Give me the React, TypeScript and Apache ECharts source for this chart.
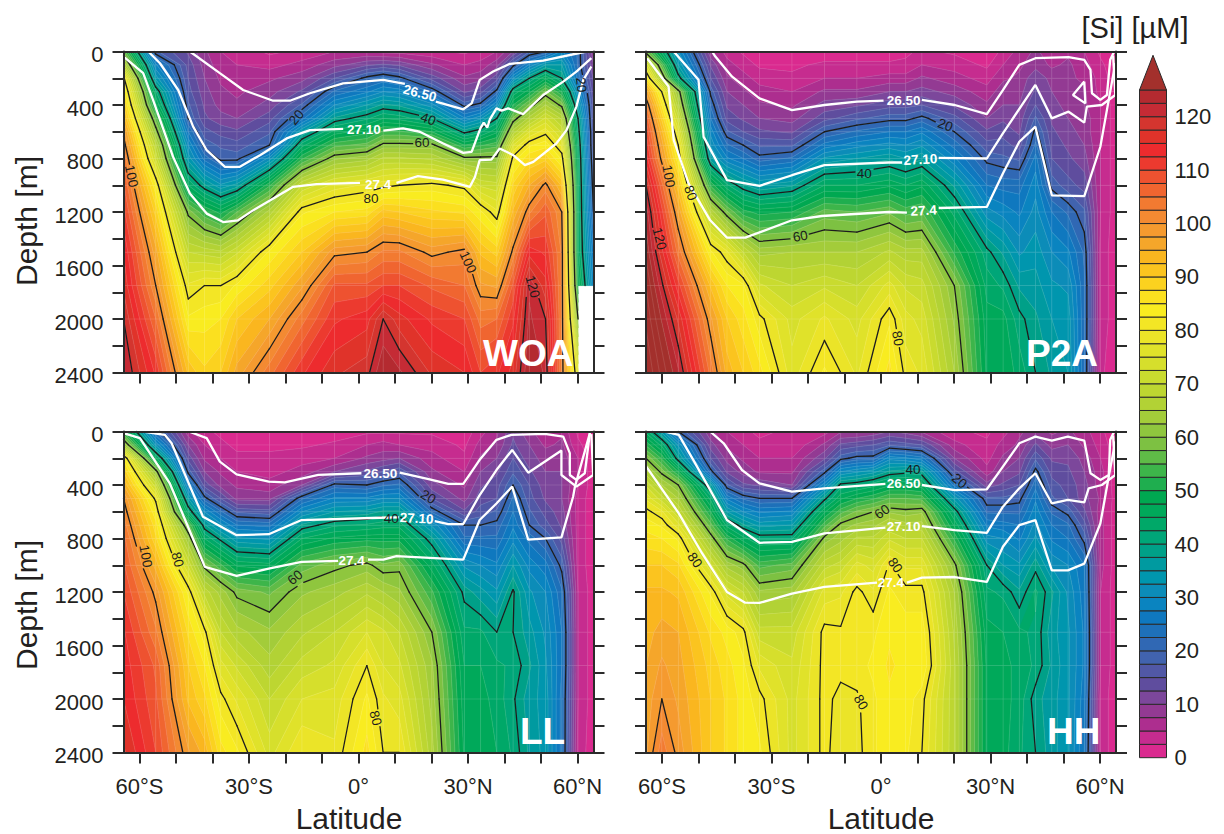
import React, { useEffect, useRef } from "react";
import * as echarts from "echarts";

const FONT = '"Liberation Sans", Arial, sans-serif';
const INK = "#231f20";
const DEPTHS = [0, 100, 200, 300, 400, 500, 600, 700, 800, 1000, 1200, 1500, 1750, 2000, 2400];
const LAT_EDGE = 64.39;
const LATS = [-LAT_EDGE, -55.55, -46.65, -42.2, -37.75, -33.3, -24.4, -15.5, -6.6, 2.3, 6.75, 11.2, 20.1, 29, 33.45, 37.9, 42.35, 46.8, 51.25, 55.7, 60.15, LAT_EDGE];
const LATS_HH = [-LAT_EDGE, -60.05, -55.55, -46.65, -42.2, -37.75, -33.3, -24.4, -15.5, -11.05, -6.6, -2.15, 2.3, 6.75, 11.2, 20.1, 29, 33.45, 37.9, 42.35, 46.8, 51.25, 55.7, 60.15, LAT_EDGE];
const LAT_TICKS = [-60, -50, -40, -30, -20, -10, 0, 10, 20, 30, 40, 50, 60];
const LAT_LABELS = [-60, -30, 0, 30, 60];
const DEPTH_LABELS = [0, 400, 800, 1200, 1600, 2000, 2400];
const BAR_LABELS = [0, 10, 20, 30, 40, 50, 60, 70, 80, 90, 100, 110, 120];
const CONTOUR_LEVELS = [20, 40, 60, 80, 100, 120];
const BAND_STEP = 2.5;
const BAR_TOP = 125;
const BAR_APEX = 131.5;

// One colour per 2.5 uM band, from 0 upward; the last one is the over-range arrow.
const PALETTE = [
  "#da2a8f", "#c62c8f", "#ad2e8f", "#933a93", "#7c479b", "#5f4d9e", "#5158a6", "#4163ae", "#3068b4", "#1e70b9",
  "#0f78bf", "#0a84c0", "#0c8cb8", "#0096ae", "#009aa0", "#00a088", "#00a678", "#00a868", "#00a95a", "#00a851",
  "#1fae4f", "#3db54a", "#5fbb47", "#7dc142", "#8fc63e", "#a3cc3a", "#b2d235", "#bdd631", "#c9db2f", "#d6df2c",
  "#e0e22a", "#ebe428", "#f3e625", "#f9ec20", "#fbe01f", "#fbd21f", "#fbc41f", "#fab61f", "#f5a62a", "#f59a2f",
  "#f38a32", "#f27a31", "#f06530", "#ee5230", "#ec3a2f", "#ed2b2e", "#e0332a", "#d4352f", "#c52b35", "#b42a30", "#a3302c",
];

// Silicate per latitude column, top to bottom over DEPTHS.
const WOA_SI = [
  [57, 68, 81, 86, 90, 94, 99, 102, 105, 108, 111, 115, 117, 120, 123],
  [18, 28, 34, 43, 48, 56, 62, 68, 72, 83, 89, 96, 100, 105, 112],
  [12, 14, 15, 16, 18, 20, 25, 30, 34, 45, 59, 70, 78, 83, 92],
  [8, 9, 10, 11, 12, 13, 16, 19, 24, 38, 53, 69, 80, 84, 88],
  [5, 6, 7, 8, 9, 11, 14, 17, 19, 33, 49, 68, 80, 85, 90],
  [4, 5, 6, 7, 8, 10, 13, 16, 19, 36, 55, 72, 83, 90, 96],
  [2, 4, 7, 9, 11, 14, 17, 20, 31, 52, 66, 83, 89, 95, 104],
  [3, 6, 9, 13, 18, 24, 35, 44, 52, 70, 82, 90, 97, 104, 112],
  [5, 9, 15, 23, 30, 38, 46, 54, 62, 76, 85, 99, 108, 112, 117],
  [5, 12, 21, 27, 35, 42, 49, 56, 64, 78, 86, 100, 108, 114, 119],
  [4, 13, 23, 30, 38, 45, 53, 61, 68, 79, 91, 103, 110, 120, 125],
  [4, 12, 21, 29, 37, 44, 53, 61, 68, 80, 90, 103, 110, 116, 123],
  [3, 8, 14, 22, 31, 40, 50, 61, 67, 81, 88, 99, 107, 112, 117],
  [2, 5, 8, 12, 19, 28, 39, 50, 61, 79, 87, 101, 105, 110, 115],
  [3, 6, 9, 14, 21, 32, 42, 52, 61, 72, 83, 92, 98, 104, 110],
  [5, 9, 14, 21, 30, 40, 47, 54, 61, 71, 78, 89, 97, 105, 112],
  [10, 19, 30, 43, 50, 58, 66, 75, 81, 88, 93, 101, 108, 112, 116],
  [17, 28, 40, 49, 58, 66, 75, 82, 87, 95, 102, 114, 122, 123, 125],
  [20, 35, 47, 58, 65, 73, 79, 84, 89, 101, 107, 112, 116, 120, 122],
  [28, 35, 40, 50, 59, 67, 72, 77, 82, 92, 100, 102, 102, 102, 102],
  [22, 22, 24, 30, 35, 40, 42, 44, 45, 46, 46, 46, 50, 60, 75],
  [8, 10, 12, 13, 14, 14, 15, 15, 16, 18, 20, 25, 28, null, null],
];
const P2A_SI = [
  [58, 75, 85, 97, 103, 107, 110, 112, 114, 120, 124, 127, 130, 132, 135],
  [30, 35, 42, 62, 66, 71, 76, 80, 83, 91, 97, 104, 111, 117, 123],
  [8, 12, 15, 19, 22, 25, 29, 32, 36, 52, 67, 83, 92, 98, 104],
  [4, 6, 8, 10, 12, 14, 18, 23, 28, 43, 58, 78, 85, 90, 94],
  [2, 4, 6, 8, 10, 12, 15, 20, 25, 38, 51, 70, 83, 86, 90],
  [1, 2, 4, 6, 8, 10, 13, 17, 21, 35, 49, 64, 73, 81, 86],
  [1, 2, 3, 5, 7, 9, 12, 17, 23, 37, 50, 65, 70, 74, 76],
  [1, 3, 5, 8, 11, 14, 20, 26, 33, 45, 56, 65, 72, 78, 83],
  [1, 3, 5, 8, 12, 17, 23, 29, 35, 45, 55, 65, 70, 74, 77],
  [1, 3, 6, 10, 14, 19, 25, 31, 37, 47, 57, 68, 76, 82, 86],
  [2, 3, 6, 10, 14, 19, 25, 30, 35, 45, 54, 66, 72, 76, 79],
  [3, 5, 8, 11, 15, 21, 27, 32, 37, 47, 55, 66, 71, 74, 77],
  [2, 4, 6, 9, 12, 16, 20, 24, 28, 37, 44, 52, 60, 62, 65],
  [1, 2, 4, 6, 8, 10, 13, 16, 19, 25, 31, 41, 44, 46, 47],
  [3, 5, 7, 9, 10, 12, 14, 16, 18, 24, 29, 37, 42, 46, 47],
  [6, 7, 8, 9, 10, 11, 12, 14, 17, 24, 27, 32, 37, 41, 44],
  [8, 9, 12, 13, 15, 18, 21, 23, 26, 29, 31, 34, 36, 38, 40],
  [6, 7, 9, 10, 11, 12, 13, 14, 15, 19, 25, 30, 33, 35, 37],
  [7, 8, 8, 9, 9, 10, 11, 12, 13, 16, 22, 28, 32, 34, 35],
  [5, 6, 7, 8, 8, 9, 9, 10, 11, 14, 18, 22, 23, 23, 23],
  [2, 3, 4, 4, 5, 5, 5, 5, 5, 5, 5, 4, 4, 4, 3],
  [1, 1, 1, 1, 1, 1, 1, 1, 1, 1, 1, 1, 1, 1, 1],
];
const LL_SI = [
  [52, 65, 84, 90, 95, 100, 102, 104, 106, 108, 110, 113, 114, 115, 118],
  [22, 32, 46, 62, 71, 79, 83, 86, 88, 94, 99, 103, 107, 108, 110],
  [6, 10, 14, 19, 27, 35, 43, 56, 63, 72, 82, 87, 90, 92, 98],
  [3, 5, 7, 10, 14, 21, 30, 38, 45, 59, 69, 81, 85, 88, 94],
  [2, 3, 5, 7, 9, 15, 23, 31, 39, 53, 64, 70, 76, 81, 86],
  [1, 2, 3, 5, 7, 9, 17, 25, 33, 47, 59, 66, 72, 77, 83],
  [1, 2, 3, 4, 6, 9, 16, 24, 32, 46, 57, 63, 66, 70, 74],
  [1, 2, 4, 6, 10, 22, 30, 38, 45, 56, 62, 67, 71, 75, 80],
  [1, 3, 5, 10, 21, 28, 35, 42, 48, 59, 64, 70, 73, 76, 78],
  [2, 5, 8, 13, 20, 28, 36, 43, 49, 61, 67, 75, 80, 83, 86],
  [2, 6, 9, 15, 22, 30, 38, 44, 49, 58, 65, 73, 75, 78, 80],
  [2, 5, 10, 17, 23, 30, 38, 44, 49, 59, 63, 70, 73, 76, 80],
  [2, 4, 6, 8, 11, 15, 22, 32, 38, 46, 53, 60, 63, 64, 66],
  [1, 2, 3, 5, 7, 9, 13, 20, 23, 32, 39, 43, 45, 46, 47],
  [4, 6, 8, 10, 12, 14, 16, 20, 23, 30, 36, 43, 45, 46, 47],
  [7, 8, 10, 12, 14, 15, 18, 21, 23, 28, 33, 40, 43, 44, 45],
  [12, 13, 15, 17, 20, 23, 25, 27, 29, 35, 40.5, 40, 42, 40.5, 42],
  [8, 10, 11, 13, 15, 16, 18, 20, 24, 29, 33, 36, 38, 36, 37],
  [6, 7, 9, 10, 11, 12, 14, 16, 20, 26, 30, 32, 33, 34, 34],
  [7, 8, 9, 10, 10, 10, 11, 12, 14, 19, 23, 25, 25, 24, 24],
  [2, 3, 5, 5, 5, 4, 4, 4, 4, 4, 5, 5, 5, 5, 4],
  [1, 1, 1, 1, 1, 1, 1, 1, 1, 1, 1, 1, 1, 1, 1],
];
const HH_SI = [
  [44, 52, 60, 66, 72, 77, 81, 84, 86, 90, 93, 94, 95, 96, 97],
  [34, 44, 52, 59, 65, 71, 78, 82, 85, 90, 93, 96, 98, 100, 104],
  [20, 32, 38, 50, 60, 65, 70, 76, 82, 88, 92, 95, 96, 97, 99],
  [8, 11, 15, 21, 36, 44, 50, 56, 62, 73, 82, 87, 89, 90, 90],
  [5, 7, 9, 12, 18, 27, 35, 44, 52, 64, 74, 84, 86, 87, 87],
  [3, 5, 7, 9, 13, 22, 30, 38, 46, 61, 70, 81, 83, 84, 84],
  [2, 3, 5, 7, 12, 20, 27, 34, 42, 54, 63, 71, 77, 81, 83],
  [3, 3, 5, 7, 10, 20, 28, 35, 42, 56, 64, 71, 73, 74, 74],
  [4, 8, 12, 19, 29, 39, 47, 54, 61, 69, 76, 81, 81, 81, 81],
  [7, 13, 19, 30, 41, 47, 54, 61, 64, 71, 77, 80.5, 81, 79, 78],
  [7, 14, 21, 32, 42, 50, 58, 63, 68, 76, 81, 82, 81.5, 79.5, 79],
  [8, 15, 21, 34, 44, 52, 60, 64, 68, 74, 78, 82, 83, 82, 82],
  [10, 17, 29, 38, 47, 55, 62, 68, 72, 80.5, 83, 84.5, 85.5, 84.5, 84.5],
  [9, 16, 28, 39, 47, 55, 61, 66, 70, 77, 81, 84, 84, 84, 83],
  [7, 15, 26, 38, 46, 54, 62, 66, 70, 77, 81, 84, 85, 81, 80],
  [3, 6, 10, 16, 24, 34, 42, 47, 52, 61, 65, 67, 68, 68, 68],
  [2, 3, 4, 6, 11, 18, 22, 27, 31, 40, 43, 46, 47, 47, 47],
  [4, 6, 8, 10, 13, 18, 22, 26, 30, 35, 42, 45, 46, 46, 46],
  [7, 8, 10, 12, 15, 19, 22, 25, 27, 33, 38, 43, 44, 44, 43],
  [9, 13, 17, 21, 24, 27, 29, 31, 33, 39, 43, 42, 42, 38.5, 40],
  [7, 9, 12, 14, 16, 18, 22, 25, 27, 32, 38, 36, 37, 36, 36],
  [8, 10, 12, 13, 14, 15, 19, 23, 25, 30, 32, 33, 33, 33, 33],
  [6, 7, 9, 10, 11, 11, 13, 16, 19, 25, 26, 27, 27, 26, 25],
  [3, 4, 5, 6, 6, 7, 6, 6, 6, 6, 5, 5, 5, 4, 4],
  [1, 1, 1, 1, 1, 1, 1, 1, 1, 1, 1, 1, 1, 1, 1],
];

// Isopycnals: each is a list of runs of [latitude, depth], broken where their label sits.
const WOA_WHITE = [
  [[-46.2, 0], [-38, 162], [-31.6, 288], [-23.4, 368], [-18.8, 368], [-13.3, 312], [-4.2, 238], [6.8, 212], [12.7, 242]],
  [[21.2, 375], [28.7, 432], [31, 388], [33.2, 212], [36.9, 150], [41.5, 92], [50.6, 68], [62.5, 0]],
  [[-57.6, 0], [-54.4, 88], [-49.4, 288], [-45.3, 562], [-41.6, 738], [-36.6, 862], [-32.5, 862], [-27, 775], [-19.7, 650], [-13.3, 588], [-4.2, 578]],
  [[6.8, 592], [12.2, 575], [16.8, 600], [23.2, 688], [28.7, 758], [31, 750], [33.4, 575], [34.3, 532], [35.3, 568], [36, 508], [37.8, 425], [39.2, 442], [41, 425], [45.1, 468], [50.6, 325], [56.1, 225], [59.7, 150], [63.8, 50]],
  [[-64.39, 38], [-59, 162], [-56.3, 362], [-50.8, 788], [-46.2, 1062], [-41.6, 1212], [-37.1, 1275], [-33, 1262], [-28.9, 1188], [-17.9, 1012], [-11.5, 992], [0.4, 982]],
  [[10.4, 982], [16.3, 932], [23.2, 958], [30.5, 1012], [31.9, 938], [33.2, 812], [36.4, 808], [38.7, 725], [42.4, 775], [45.6, 850], [47.9, 825], [54.2, 688], [57, 588], [59.7, 412], [61.6, 212], [63.8, 112]],
];
const P2A_WHITE = [
  [[-46.3, 0], [-45.4, 38], [-40.8, 188], [-33.3, 350], [-24.4, 438], [-15.5, 400], [-6.6, 375], [0.7, 368]],
  [[11.2, 362], [20.2, 400], [29, 468], [33.4, 288], [37.9, 100], [42.3, 50], [51.4, 42], [55.7, 62], [57.4, 138], [57.8, 312], [60.1, 362], [61.9, 325], [62.8, 62], [63.9, 0]],
  [[55.7, 225], [52.6, 325], [56, 388], [55.7, 225]],
  [[-56.8, 0], [-50, 212], [-48.6, 638], [-42.2, 962], [-33.3, 1005], [-24.4, 925], [-15.5, 850], [2.1, 830], [5.8, 830]],
  [[15.8, 795], [29, 800], [33.4, 612], [42.3, 250], [46.8, 500], [51.4, 450], [55.7, 532], [56.4, 412], [60.5, 400], [64.2, 325], [63.6, 30]],
  [[-64.1, 50], [-58.2, 262], [-56.8, 662], [-52.7, 988], [-46.8, 1262], [-42.2, 1392], [-37.2, 1392], [-24.4, 1262], [-16.2, 1230], [2.1, 1200], [7.1, 1205]],
  [[15.8, 1170], [29, 1162], [33.4, 912], [37.9, 675], [42.3, 562], [46.8, 1075], [55.7, 1082], [60.1, 712], [62.4, 362], [64.2, 88]],
];
const LL_WHITE = [
  [[-46.5, 0], [-41.6, 50], [-38, 225], [-33.4, 320], [-24.6, 375], [-20.2, 380], [-11, 325], [0.8, 312]],
  [[11.3, 308], [19.5, 358], [24.6, 392], [28.7, 392], [33.2, 212], [37.8, 62], [41.9, 25], [51, 18], [56.1, 38], [57.9, 162], [57.9, 325], [59.7, 362], [62, 312], [63.4, 12]],
  [[-59, 0], [-53.1, 25], [-51.2, 88], [-42.6, 638], [-33.4, 775], [-24.6, 768], [-15.6, 662], [5.8, 645], [11.1, 642]],
  [[20.9, 670], [24.6, 692], [28.7, 692], [33.2, 475], [37.8, 288], [42.1, 138], [46.5, 308], [55.6, 142], [55.6, 325], [59.7, 412], [64.3, 325], [63.8, 20]],
  [[-64.39, 12], [-59.9, 50], [-51.7, 388], [-42.1, 1012], [-33.4, 1080], [-24.6, 1025], [-15.6, 975], [-5.6, 968]],
  [[2.6, 958], [6.8, 958], [10.4, 932], [28.7, 958], [33.2, 662], [37.8, 538], [42.1, 412], [46.5, 808], [55.6, 792], [58.8, 488], [59.3, 412], [63.4, 12]],
];
const HH_WHITE = [
  [[-46.8, 0], [-43.1, 88], [-38.1, 288], [-33.3, 388], [-24.4, 450], [-15.5, 425], [1.2, 392]],
  [[11.2, 400], [20.2, 438], [29, 432], [33.4, 262], [37.9, 88], [42.3, 38], [46.8, 68], [51.2, 38], [55.7, 68], [57.4, 312], [60.1, 362], [62.4, 325], [62.8, 62], [63.9, 0]],
  [[-59.5, 0], [-55.4, 25], [-50.9, 238], [-42.2, 662], [-33.3, 832], [-24.4, 825], [-15.5, 762], [1.2, 718]],
  [[11.2, 708], [20.2, 738], [29, 758], [33.4, 562], [37.9, 425], [42.3, 312], [46.8, 538], [51.2, 512], [55.7, 530], [56.9, 425], [60.5, 400], [64.2, 325], [63.6, 30]],
  [[-64.3, 262], [-55.4, 612], [-49, 912], [-42.2, 1200], [-37.2, 1280], [-33.3, 1282], [-24.4, 1212], [-15.5, 1162], [-1.1, 1130]],
  [[7.1, 1130], [11.2, 1092], [20.2, 1088], [29, 1125], [33.4, 862], [37.9, 700], [42.3, 662], [46.8, 1038], [51.2, 1038], [55.7, 988], [60.1, 688], [62.4, 338], [64.2, 75]],
];

// Labels: latitude, depth, text, rotation in degrees.
const WOA_BLACK_LABELS = [[-17, 492, "20", 50], [19.1, 505, "40", -20], [17.4, 680, "60", 0], [-62.2, 932, "100", -78], [3.4, 1100, "80", 0], [30, 1575, "100", -65], [47.7, 1758, "120", -75], [61, 250, "20", -85]];
const P2A_BLACK_LABELS = [[17.6, 550, "20", -20], [-4.6, 912, "40", 0], [-22.1, 1382, "60", 10], [-58.2, 932, "100", -80], [-52.2, 1058, "80", -70], [-60.7, 1400, "120", -75], [4.6, 2145, "80", -80]];
const LL_BLACK_LABELS = [[19.1, 488, "20", -30], [9, 650, "40", 0], [-17.4, 1092, "60", 40], [-58.3, 932, "100", -80], [-49.6, 958, "80", -75], [4.7, 2142, "80", -75]];
const HH_BLACK_LABELS = [[8.8, 285, "40", 0], [21.5, 370, "20", -40], [0.3, 600, "60", 35], [-51, 962, "80", -55], [3.9, 1000, "80", -55], [-5.5, 2025, "80", -60]];
const WOA_WHITE_LABELS = [[16.8, 312, "26.50", -15], [1.5, 582, "27.10", 0], [5.4, 992, "27.4", 0]];
const P2A_WHITE_LABELS = [[6.2, 365, "26.50", 0], [10.8, 808, "27.10", 3], [11.7, 1190, "27.4", 3]];
const LL_WHITE_LABELS = [[6, 312, "26.50", 0], [15.9, 650, "27.10", -3], [-1.9, 962, "27.4", 0]];
const HH_WHITE_LABELS = [[6.2, 392, "26.50", 0], [6.2, 712, "27.10", 0], [2.7, 1130, "27.4", 0]];

const PANELS = [
  { title: "WOA", left: 123.5, top: 51.5, titleX: 483, titleY: 353, lats: LATS, si: WOA_SI, white: WOA_WHITE, blackLabels: WOA_BLACK_LABELS, whiteLabels: WOA_WHITE_LABELS },
  { title: "P2A", left: 646, top: 51.5, titleX: 1026, titleY: 353, lats: LATS, si: P2A_SI, white: P2A_WHITE, blackLabels: P2A_BLACK_LABELS, whiteLabels: P2A_WHITE_LABELS },
  { title: "LL", left: 123.5, top: 431.5, titleX: 520, titleY: 731, lats: LATS, si: LL_SI, white: LL_WHITE, blackLabels: LL_BLACK_LABELS, whiteLabels: LL_WHITE_LABELS },
  { title: "HH", left: 646, top: 431.5, titleX: 1047, titleY: 731, lats: LATS_HH, si: HH_SI, white: HH_WHITE, blackLabels: HH_BLACK_LABELS, whiteLabels: HH_WHITE_LABELS },
];
const PLOT_W = 470;
const PLOT_H = 321;

type Corner = { lat: number; depth: number; v: number };

function clipPoly(poly: Corner[], level: number, above: boolean): Corner[] {
  const out: Corner[] = [];
  const inside = (p: Corner) => (above ? p.v >= level : p.v <= level);
  for (let i = 0; i < poly.length; i++) {
    const a = poly[i];
    const b = poly[(i + 1) % poly.length];
    const ia = inside(a);
    const ib = inside(b);
    if (ia) out.push(a);
    if (ia !== ib) {
      const t = (level - a.v) / (b.v - a.v);
      out.push({ lat: a.lat + (b.lat - a.lat) * t, depth: a.depth + (b.depth - a.depth) * t, v: level });
    }
  }
  return out;
}

function isoSegments(q: Corner[], level: number): Corner[][] {
  const hits: Corner[] = [];
  for (let i = 0; i < 4; i++) {
    const a = q[i];
    const b = q[(i + 1) % 4];
    if (a.v < level !== b.v < level) {
      const t = (level - a.v) / (b.v - a.v);
      hits.push({ lat: a.lat + (b.lat - a.lat) * t, depth: a.depth + (b.depth - a.depth) * t, v: level });
    }
  }
  const segs: Corner[][] = [];
  for (let i = 0; i + 1 < hits.length; i += 2) segs.push([hits[i], hits[i + 1]]);
  return segs;
}

function buildCells(lats: number[], si: (number | null)[][]) {
  const cells: Corner[][] = [];
  for (let c = 0; c + 1 < lats.length; c++) {
    for (let r = 0; r + 1 < DEPTHS.length; r++) {
      const vs = [si[c][r], si[c + 1][r], si[c + 1][r + 1], si[c][r + 1]];
      if (vs.some((v) => v === null)) continue;
      cells.push([
        { lat: lats[c], depth: DEPTHS[r], v: vs[0] as number },
        { lat: lats[c + 1], depth: DEPTHS[r], v: vs[1] as number },
        { lat: lats[c + 1], depth: DEPTHS[r + 1], v: vs[2] as number },
        { lat: lats[c], depth: DEPTHS[r + 1], v: vs[3] as number },
      ]);
    }
  }
  return cells;
}

function buildOption() {
  const grid: any[] = [];
  const xAxis: any[] = [];
  const yAxis: any[] = [];
  const series: any[] = [];
  const frame = { show: true, onZero: false, lineStyle: { color: "#2b2b2b", width: 2 } };
  const tick = { show: true, inside: false, length: 11, lineStyle: { color: "#2b2b2b", width: 2 } };
  const labelStyle = { color: INK, fontFamily: FONT, fontSize: 22 };

  PANELS.forEach((p, i) => {
    const bottomRow = i >= 2;
    const leftCol = i % 2 === 0;
    grid.push({ left: p.left, top: p.top, width: PLOT_W, height: PLOT_H });
    const xBase = { type: "value", gridIndex: i, min: -LAT_EDGE, max: LAT_EDGE, z: 10, splitLine: { show: false } };
    xAxis.push({
      ...xBase,
      position: "bottom",
      axisLine: frame,
      axisTick: { ...tick, customValues: LAT_TICKS },
      axisLabel: {
        show: bottomRow,
        ...labelStyle,
        margin: 23,
        customValues: LAT_LABELS,
        formatter: (v: number) => (v === 0 ? "0°" : v < 0 ? `${-v}°S` : `${v}°N`),
      },
    });
    xAxis.push({ ...xBase, position: "top", axisLine: frame, axisTick: { show: false }, axisLabel: { show: false } });
    const yBase = { type: "value", gridIndex: i, inverse: true, min: 0, max: 2400, interval: 200, z: 10, splitLine: { show: false } };
    yAxis.push({
      ...yBase,
      position: "left",
      axisLine: frame,
      axisTick: tick,
      axisLabel: {
        show: leftCol,
        ...labelStyle,
        margin: 20,
        verticalAlign: "top",
        lineHeight: 6,
        customValues: DEPTH_LABELS,
        formatter: (v: number) => String(v),
      },
    });
    yAxis.push({ ...yBase, position: "right", axisLine: frame, axisTick: tick, axisLabel: { show: false } });

    const cells = buildCells(p.lats, p.si as (number | null)[][]);
    const axisRef = { xAxisIndex: i * 2, yAxisIndex: i * 2, coordinateSystem: "cartesian2d", silent: true, animation: false };
    const cellData = cells.map((_, k) => [k, 0]);

    const fillItem = (params: any, api: any) => {
      const q = cells[params.dataIndex];
      const vs = q.map((c) => c.v);
      const lo = Math.min(...vs);
      const hi = Math.max(...vs);
      const children: any[] = [];
      for (let b = Math.floor(lo / BAND_STEP); b * BAND_STEP <= hi; b++) {
        let poly = clipPoly(q, b * BAND_STEP, true);
        if (b < PALETTE.length - 1) poly = clipPoly(poly, (b + 1) * BAND_STEP, false);
        if (poly.length < 3) continue;
        const color = PALETTE[Math.min(b, PALETTE.length - 1)];
        children.push({
          type: "polygon",
          shape: { points: poly.map((c) => api.coord([c.lat, c.depth])) },
          style: { fill: color, stroke: color, lineWidth: 0.6 },
        });
      }
      return { type: "group", children };
    };

    const meshItem = (params: any, api: any) => {
      const q = cells[params.dataIndex];
      const children: any[] = [];
      const faint = (a: number[], b: number[], opacity: number) =>
        children.push({
          type: "line",
          shape: { x1: a[0], y1: a[1], x2: b[0], y2: b[1] },
          style: { stroke: "#ffffff", lineWidth: 0.6, opacity },
        });
      const tl = api.coord([q[0].lat, q[0].depth]);
      const tr = api.coord([q[1].lat, q[1].depth]);
      const bl = api.coord([q[3].lat, q[3].depth]);
      faint(tl, tr, 0.22);
      faint(tl, bl, 0.22);
      const vs = q.map((c) => c.v);
      const lo = Math.min(...vs);
      const hi = Math.max(...vs);
      for (let b = Math.ceil(lo / BAND_STEP); b * BAND_STEP <= hi; b++) {
        for (const s of isoSegments(q, b * BAND_STEP)) {
          faint(api.coord([s[0].lat, s[0].depth]), api.coord([s[1].lat, s[1].depth]), 0.2);
        }
      }
      return { type: "group", children };
    };

    const contourItem = (params: any, api: any) => {
      const q = cells[params.dataIndex];
      const children: any[] = [];
      const holes = p.blackLabels.map((l: any) => {
        const c = api.coord([l[0], l[1]]);
        return { x: c[0], y: c[1], r: String(l[2]).length > 2 ? 12 : 9 };
      });
      const free = (x: number, y: number) => holes.every((h: any) => Math.hypot(x - h.x, y - h.y) > h.r);
      const stroke = { stroke: "#1c1c1c", lineWidth: 1.3, lineCap: "round" };
      for (const level of CONTOUR_LEVELS) {
        for (const s of isoSegments(q, level)) {
          const a = api.coord([s[0].lat, s[0].depth]);
          const b = api.coord([s[1].lat, s[1].depth]);
          const n = Math.max(1, Math.ceil(Math.hypot(b[0] - a[0], b[1] - a[1]) / 2));
          let run: number[] | null = null;
          let last: number[] | null = null;
          for (let k = 0; k <= n; k++) {
            const pt = [a[0] + ((b[0] - a[0]) * k) / n, a[1] + ((b[1] - a[1]) * k) / n];
            if (free(pt[0], pt[1])) {
              if (!run) run = pt;
              last = pt;
            } else if (run && last) {
              children.push({ type: "line", shape: { x1: run[0], y1: run[1], x2: last[0], y2: last[1] }, style: stroke });
              run = null;
            }
          }
          if (run && last) {
            children.push({ type: "line", shape: { x1: run[0], y1: run[1], x2: last[0], y2: last[1] }, style: stroke });
          }
        }
      }
      return { type: "group", children };
    };

    series.push({ ...axisRef, type: "custom", name: `${p.title} Si`, z: 2, data: cellData, renderItem: fillItem });
    series.push({ ...axisRef, type: "custom", name: `${p.title} mesh`, z: 3, data: cellData, renderItem: meshItem });
    series.push({ ...axisRef, type: "custom", name: `${p.title} contours`, z: 4, data: cellData, renderItem: contourItem });
    p.white.forEach((run: number[][], k: number) => {
      series.push({
        ...axisRef,
        type: "line",
        name: `${p.title} isopycnal ${k}`,
        z: 5,
        showSymbol: false,
        symbol: "none",
        data: run,
        lineStyle: { color: "#ffffff", width: 2.3 },
      });
    });
    const labelSeries = (rows: any[], color: string, fontSize: number, fontWeight: string, name: string) => ({
      ...axisRef,
      type: "scatter",
      name,
      z: 6,
      symbolSize: 1,
      itemStyle: { color: "rgba(0,0,0,0)" },
      labelLayout: { hideOverlap: false },
      data: rows.map((l) => ({
        value: [l[0], l[1]],
        label: {
          show: true,
          position: "inside",
          formatter: l[2],
          rotate: l[3],
          color,
          fontSize,
          fontWeight,
          fontFamily: FONT,
          align: "center",
          verticalAlign: "middle",
          opacity: 1,
        },
      })),
    });
    series.push(labelSeries(p.blackLabels, "#1c1c1c", 13.5, "normal", `${p.title} contour labels`));
    series.push(labelSeries(p.whiteLabels, "#ffffff", 13.5, "bold", `${p.title} isopycnal labels`));
  });

  // Colour bar
  grid.push({ left: 1139.5, top: 90, width: 27, height: 667.7 });
  xAxis.push({ type: "value", gridIndex: 4, min: 0, max: 1, show: false });
  yAxis.push({
    type: "value",
    gridIndex: 4,
    position: "right",
    min: 0,
    max: BAR_TOP,
    axisLine: { show: false },
    axisTick: { show: false },
    splitLine: { show: false },
    axisLabel: { ...labelStyle, margin: 8, customValues: BAR_LABELS },
  });
  const bands = PALETTE.slice(0, -1).map((_, b) => [b * BAND_STEP, (b + 1) * BAND_STEP]);
  series.push({
    type: "custom",
    name: "colour bar",
    coordinateSystem: "cartesian2d",
    xAxisIndex: 8,
    yAxisIndex: 8,
    silent: true,
    z: 2,
    data: bands,
    renderItem: (params: any, api: any) => {
      const lo = api.coord([0, api.value(0)]);
      const hi = api.coord([1, api.value(1)]);
      return {
        type: "rect",
        shape: { x: lo[0], y: hi[1], width: hi[0] - lo[0], height: lo[1] - hi[1] },
        style: { fill: PALETTE[params.dataIndex], stroke: "#2a2a2a", lineWidth: 1 },
      };
    },
  });
  series.push({
    type: "custom",
    name: "colour bar arrow",
    coordinateSystem: "cartesian2d",
    xAxisIndex: 8,
    yAxisIndex: 8,
    silent: true,
    z: 2,
    data: [[BAR_TOP, BAR_APEX]],
    renderItem: (_: any, api: any) => ({
      type: "polygon",
      shape: {
        points: [api.coord([0, api.value(0)]), api.coord([1, api.value(0)]), api.coord([0.5, api.value(1)])],
      },
      style: { fill: PALETTE[PALETTE.length - 1], stroke: "#2a2a2a", lineWidth: 1 },
    }),
  });

  const text = (t: string, x: number, y: number, fontSize: number, extra: any = {}) => ({
    type: "text",
    x,
    y,
    z: 50,
    silent: true,
    ...extra,
    style: { text: t, fill: INK, fontFamily: FONT, fontSize, textAlign: "center", textVerticalAlign: "middle", ...(extra.style || {}) },
  });
  const graphic = [
    text("Depth [m]", 26, 221, 30, { rotation: Math.PI / 2 }),
    text("Depth [m]", 26, 605, 30, { rotation: Math.PI / 2 }),
    text("Latitude", 349, 818, 30),
    text("Latitude", 881, 818, 30),
    text("[Si] [µM]", 1135, 28, 29),
    ...PANELS.map((p) =>
      text(p.title, p.titleX, p.titleY, 37, { style: { fill: "#ffffff", fontWeight: "bold", textAlign: "left" } })
    ),
  ];

  return { animation: false, backgroundColor: "#ffffff", grid, xAxis, yAxis, series, graphic };
}

export default function App() {
  const ref = useRef<HTMLDivElement>(null);
  useEffect(() => {
    if (!ref.current) return;
    const chart = echarts.init(ref.current, undefined, { renderer: "svg" });
    chart.setOption(buildOption() as any);
    return () => chart.dispose();
  }, []);
  return <div ref={ref} style={{ position: "fixed", left: 0, top: 0, width: 1224, height: 834 }} />;
}
